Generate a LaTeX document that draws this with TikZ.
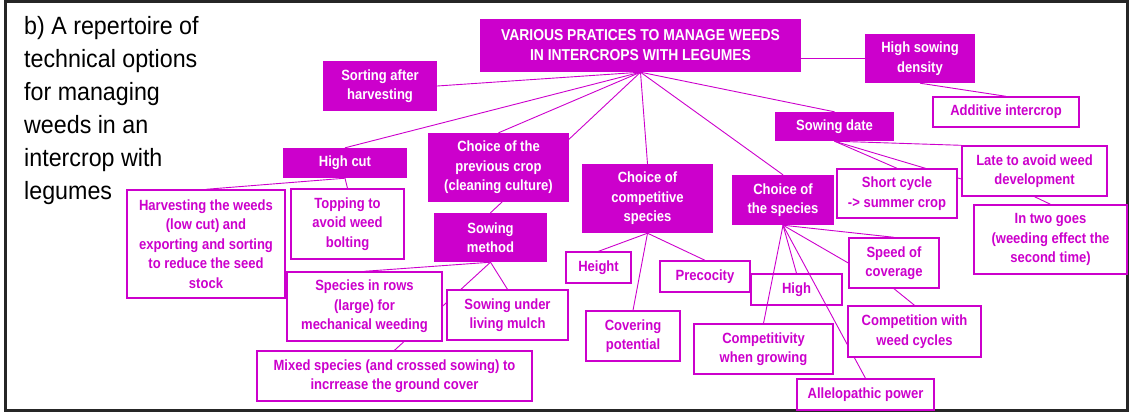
\documentclass[tikz,border=0pt]{standalone}
\usepackage{fontspec}
\setmainfont{Liberation Sans}
\newfontfamily\boxfont{Liberation Sans}[FakeStretch=0.88]
\newfontfamily\titlefont{Liberation Sans}[FakeStretch=0.93]
\usetikzlibrary{backgrounds}
\definecolor{weedmag}{RGB}{204,0,204}

\begin{document}
\begin{tikzpicture}[x=1pt,y=-1pt,
  fillbox/.style={fill=weedmag,text=white,align=center,inner sep=0pt,
    font={\boxfont\bfseries\fontsize{14.8}{19.4}\selectfont}},
  linebox/.style={draw=weedmag,line width=1.4pt,fill=white,text=weedmag,
    align=center,inner sep=0pt,
    font={\boxfont\bfseries\fontsize{14.8}{19.4}\selectfont}},
  link/.style={draw=weedmag,line width=0.9pt}]
  \useasboundingbox (0,0) rectangle (1129,416);

  % Frame
  \draw[line width=3pt,black!85] (5.3,1.5) rectangle (1127.8,410.5);

  % Caption
  \node[anchor=north west,align=left,inner sep=0pt,
    font={\titlefont\fontsize{25}{33}\selectfont}] (caption) at (24,16.5)
    {b) A repertoire of\\technical options\\for managing\\weeds in an\\intercrop with\\legumes};

  % Main topic
  \node[fillbox,minimum width=321pt,minimum height=53pt,
    font={\boxfont\bfseries\fontsize{15.8}{20}\selectfont}] (main) at (640.5,45.5)
    {VARIOUS PRATICES TO MANAGE WEEDS\\IN INTERCROPS WITH LEGUMES};

  % Practices (filled)
  \node[fillbox,minimum width=110pt,minimum height=49pt] (highsow) at (920,58.5) {High sowing\\density};
  \node[fillbox,minimum width=114pt,minimum height=50pt] (sorting) at (380,86) {Sorting after\\harvesting};
  \node[fillbox,minimum width=119pt,minimum height=29pt] (sowdate) at (834.5,126.5) {Sowing date};
  \node[fillbox,minimum width=124pt,minimum height=30pt] (highcut) at (345,163) {High cut};
  \node[fillbox,minimum width=141pt,minimum height=69pt] (prevcrop) at (498.5,167.5) {Choice of the\\previous crop\\(cleaning culture)};
  \node[fillbox,minimum width=131pt,minimum height=69pt] (compspec) at (647.5,198.5) {Choice of\\competitive\\species};
  \node[fillbox,minimum width=102pt,minimum height=50pt] (species) at (783,200) {Choice of\\the species};
  \node[fillbox,minimum width=113pt,minimum height=49pt] (sowmethod) at (490.5,237.5) {Sowing\\method};

  % Options (outlined)
  \node[linebox,minimum width=146pt,minimum height=30pt] (additive) at (1006,112) {Additive intercrop};
  \node[linebox,minimum width=145pt,minimum height=50pt] (late) at (1034.5,171) {Late to avoid weed\\development};
  \node[linebox,minimum width=120pt,minimum height=49pt] (shortcycle) at (897,193.5) {Short cycle\\-> summer crop};
  \node[linebox,minimum width=153pt,minimum height=69pt] (twogoes) at (1050.5,239.5) {In two goes\\(weeding effect the\\second time)};
  \node[linebox,minimum width=158pt,minimum height=108pt] (harvest) at (206,244) {Harvesting the weeds\\(low cut) and\\exporting and sorting\\to reduce the seed\\stock};
  \node[linebox,minimum width=113pt,minimum height=70pt] (topping) at (347.5,224) {Topping to\\avoid weed\\bolting};
  \node[linebox,minimum width=155pt,minimum height=69pt] (rows) at (364.5,306.5) {Species in rows\\(large) for\\mechanical weeding};
  \node[linebox,minimum width=121pt,minimum height=50pt] (mulch) at (507.5,315) {Sowing under\\living mulch};
  \node[linebox,minimum width=275pt,minimum height=50pt] (mixed) at (394.5,376) {Mixed species (and crossed sowing) to\\incrrease the ground cover};
  \node[linebox,minimum width=65pt,minimum height=31pt] (height) at (598.5,267.5) {Height};
  \node[linebox,minimum width=90pt,minimum height=31pt] (precocity) at (705,276.5) {Precocity};
  \node[linebox,fill=none,minimum width=91pt,minimum height=31pt] (high) at (796.5,289.5) {High};
  \node[linebox,minimum width=90pt,minimum height=50pt] (speed) at (894,263) {Speed of\\coverage};
  \node[linebox,minimum width=94pt,minimum height=50pt] (covering) at (633,336) {Covering\\potential};
  \node[linebox,minimum width=139pt,minimum height=50pt] (growing) at (763.5,349) {Competitivity\\when growing};
  \node[linebox,minimum width=133pt,minimum height=51pt] (cycles) at (914.5,331.5) {Competition with\\weed cycles};
  \node[linebox,minimum width=137pt,minimum height=31pt] (allelo) at (865.5,394.5) {Allelopathic power};

  % Links
  \begin{scope}[on background layer]
    \foreach \a/\b in {main.south/sorting.east, main.south/highcut.north,
        main.south/prevcrop.north, main.south/sowmethod.north,
        main.south/compspec.north, main.south/species.north,
        main.south/sowdate.north, highsow.south/additive.north,
        sowdate.south/shortcycle.north, sowdate.south/late.north west,
        late.south/twogoes.north, highcut.south/topping.north,
        highcut.south/harvest.north, sowmethod.south/rows.north,
        sowmethod.south/mulch.north, sowmethod.south/mixed.north,
        compspec.south/height.north, compspec.south/precocity.north,
        compspec.south/covering.north, species.south/growing.north,
        species.south/high.north, species.south/allelo.north,
        species.south/speed.west, species.south/speed.north,
        speed.south/cycles.north}
      \draw[link] (\a) -- (\b);
    \draw[link] (main.east |- highsow.west) -- (highsow.west);
    \draw[link] (sowdate.south) -- ([yshift=-8pt]late.west);
  \end{scope}
\end{tikzpicture}
\end{document}
